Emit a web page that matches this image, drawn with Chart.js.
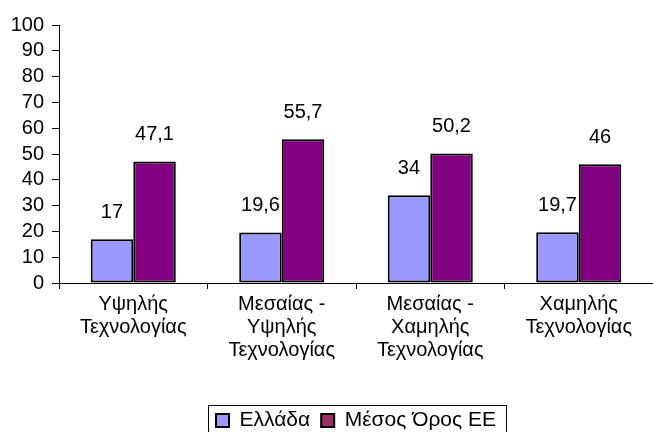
<!DOCTYPE html>
<html lang="el">
<head>
<meta charset="UTF-8">
<script src="https://cdn.jsdelivr.net/npm/chart.js@4.4.1/dist/chart.umd.min.js"></script>
<style>
  * { margin: 0; padding: 0; box-sizing: border-box; }
  body { background: #fff; }
  #wrap { width: 653px; height: 432px; }
</style>
<title>Chart</title>
</head>
<body>
<div id="wrap"><canvas id="myChart" width="653" height="432"></canvas></div>
<script>
  var categories = [
    ["Υψηλής", "Τεχνολογίας"],
    ["Μεσαίας -", "Υψηλής", "Τεχνολογίας"],
    ["Μεσαίας -", "Χαμηλής", "Τεχνολογίας"],
    ["Χαμηλής", "Τεχνολογίας"]
  ];
  var greece = [17, 19.6, 34, 19.7];
  var euAverage = [47.1, 55.7, 50.2, 46];
  var seriesNames = ["Ελλάδα", "Μέσος Όρος ΕΕ"];
  var legendSwatches = ['#9999FF', '#993366'];

  var fontFamily = "'Liberation Sans', Arial, sans-serif";
  var fontSize = 20;

  // value labels above the bars, comma as decimal separator
  var valueLabels = {
    id: 'valueLabels',
    afterDatasetsDraw: function (chart) {
      var ctx = chart.ctx;
      ctx.save();
      ctx.font = fontSize + 'px ' + fontFamily;
      ctx.fillStyle = '#000';
      ctx.textAlign = 'center';
      ctx.textBaseline = 'middle';
      chart.data.datasets.forEach(function (ds, i) {
        chart.getDatasetMeta(i).data.forEach(function (bar, j) {
          var txt = String(ds.data[j]).replace('.', ',');
          ctx.fillText(txt, bar.x, bar.y - 27);
        });
      });
      ctx.restore();
    }
  };

  // frame around the legend
  var legendBox = {
    id: 'legendBox',
    afterDraw: function (chart) {
      var boxes = chart.legend.legendHitBoxes;
      if (!boxes || !boxes.length) return;
      var minX = Infinity, maxX = -Infinity, mid = 0;
      boxes.forEach(function (b) {
        minX = Math.min(minX, b.left);
        maxX = Math.max(maxX, b.left + b.width);
        mid = b.top + b.height / 2;
      });
      var ctx = chart.ctx;
      ctx.save();
      ctx.strokeStyle = '#000';
      ctx.lineWidth = 1;
      ctx.strokeRect(Math.round(minX - 8) + 0.5, Math.round(mid - 16) + 0.5, maxX - minX + 18, 60);
      ctx.restore();
    }
  };

  new Chart(document.getElementById('myChart'), {
    type: 'bar',
    data: {
      labels: categories,
      datasets: [{
        label: seriesNames[0],
        data: greece,
        backgroundColor: '#9999FF',
        borderColor: '#000',
        borderWidth: 2,
        borderSkipped: false
      }, {
        label: seriesNames[1],
        data: euAverage,
        backgroundColor: '#800080',
        borderColor: '#000',
        borderWidth: 2,
        borderSkipped: false
      }]
    },
    options: {
      responsive: false,
      animation: false,
      layout: { padding: { top: 25, right: 0, left: 0, bottom: -9 } },
      categoryPercentage: 0.573,
      barPercentage: 1,
      scales: {
        x: {
          grid: { display: true, drawOnChartArea: false, color: '#000', tickLength: 6, offset: true },
          border: { color: '#000', width: 1 },
          ticks: { color: '#000', font: { family: fontFamily, size: fontSize, lineHeight: 1.15 }, maxRotation: 0, autoSkip: false, padding: 4 },
          afterFit: function (axis) { axis.height = 116; }
        },
        y: {
          min: 0,
          max: 100,
          ticks: { stepSize: 10, autoSkip: false, color: '#000', font: { family: fontFamily, size: fontSize }, padding: 8 },
          grid: { display: true, drawOnChartArea: false, color: '#000', tickLength: 7 },
          border: { color: '#000', width: 1 },
          afterFit: function (axis) { axis.width = 59; }
        }
      },
      plugins: {
        legend: {
          position: 'bottom',
          fullSize: false,
          labels: {
            color: '#000',
            font: { family: fontFamily, size: 21 },
            boxWidth: 13,
            boxHeight: 13,
            padding: 11,
            useBorderRadius: false,
            generateLabels: function (chart) {
              var items = Chart.defaults.plugins.legend.labels.generateLabels(chart);
              items.forEach(function (it, k) { it.fillStyle = legendSwatches[k]; it.lineWidth = 2; });
              return items;
            }
          }
        },
        tooltip: { enabled: false }
      }
    },
    plugins: [valueLabels, legendBox]
  });
</script>
</body>
</html>
